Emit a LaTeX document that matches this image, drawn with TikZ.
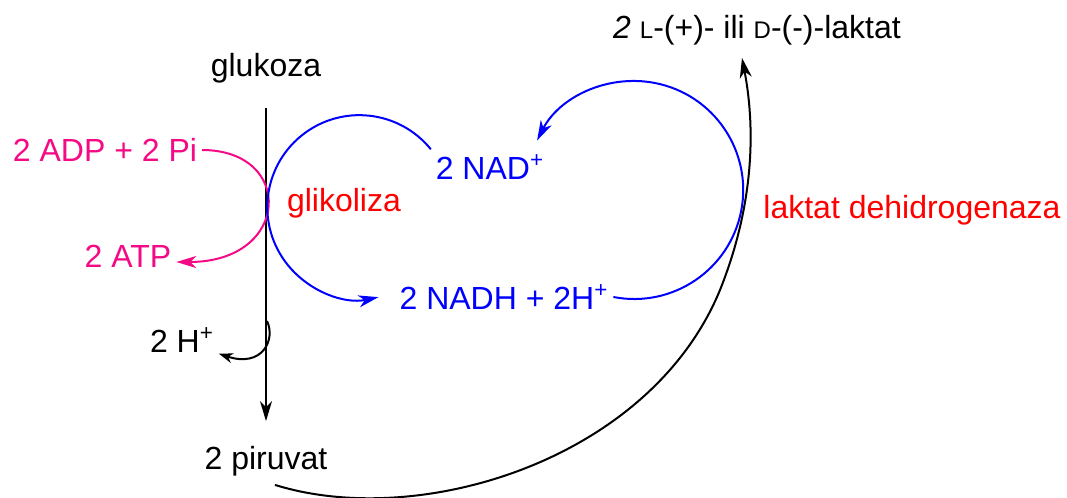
\documentclass[tikz,border=0pt]{standalone}
\usepackage{fontspec}
\setmainfont{Liberation Sans}
\usetikzlibrary{arrows.meta}
\definecolor{darktext}{HTML}{000000}
\definecolor{glycpink}{HTML}{F50A85}
\definecolor{redoxblue}{HTML}{0000FF}
\definecolor{enzymered}{HTML}{FF0000}
\newcommand{\smcap}[1]{{\fontsize{12}{12}\selectfont #1}}
\tikzset{
  lbl/.style={font=\fontsize{16}{19}\selectfont, inner sep=2pt},
  bigtip/.style={-{Stealth[length=10pt, width=6pt, inset=3pt]}},
  smalltip/.style={-{Stealth[length=7pt, width=5pt, inset=2.2pt]}}
}

\begin{document}
\begin{tikzpicture}[x=0.5pt, y=-0.5pt, line width=1pt]
  \useasboundingbox (0,0) rectangle (1067,498);
  % main pathway
  \node[lbl, darktext] (laktat) at (757,30) {\textit{2} \smcap{L}-(+)- ili \smcap{D}-(-)-laktat};
  \node[lbl, darktext] (glukoza) at (266,68) {glukoza};
  \node[lbl, darktext] (piruvat) at (266,461) {2 piruvat};
  \draw[bigtip, darktext, shorten <=10pt, shorten >=10pt] (glukoza.south) -- (piruvat.north);
  % phosphorylation
  \node[lbl, glycpink] (adp) at (105,150) {2 ADP + 2 Pi};
  \node[lbl, glycpink] (atp) at (128,256) {2 ATP};
  \draw[bigtip, glycpink] (adp.east) .. controls (295,150) and (291,262) .. ([yshift=-3pt]atp.east);
  % proton release
  \node[lbl, darktext] (hplus) at (182,340) {2 H\textsuperscript{+}};
  \coordinate (hsplit) at (267,321);
  \draw[smalltip, darktext] (hsplit) .. controls (276,340) and (262,368) .. ([yshift=2pt]hplus.south east);
  % redox cycle
  \node[lbl, enzymered] (glikoliza) at (344,203) {glikoliza};
  \node[lbl, redoxblue] (nad) at (490,167) {2 NAD\textsuperscript{+}};
  \node[lbl, redoxblue] (nadh) at (504,297) {2 NADH + 2H\textsuperscript{+}};
  \draw[bigtip, redoxblue] (nad.north west) arc[start angle=-39, end angle=-282, radius=92];
  \draw[bigtip, redoxblue] (nadh.east) arc[start angle=101, end angle=-153, radius=109];
  % reduction to lactate
  \node[lbl, enzymered] (ldh) at (912,210) {laktat dehidrogenaza};
  \draw[bigtip, darktext] ([xshift=4.5pt, yshift=-2pt]piruvat.south)
    .. controls (420,530) and (650,460) .. (720,290)
    .. controls (760,190) and (752,110) .. ([xshift=-7.5pt, yshift=-4pt]laktat.south);
\end{tikzpicture}
\end{document}
